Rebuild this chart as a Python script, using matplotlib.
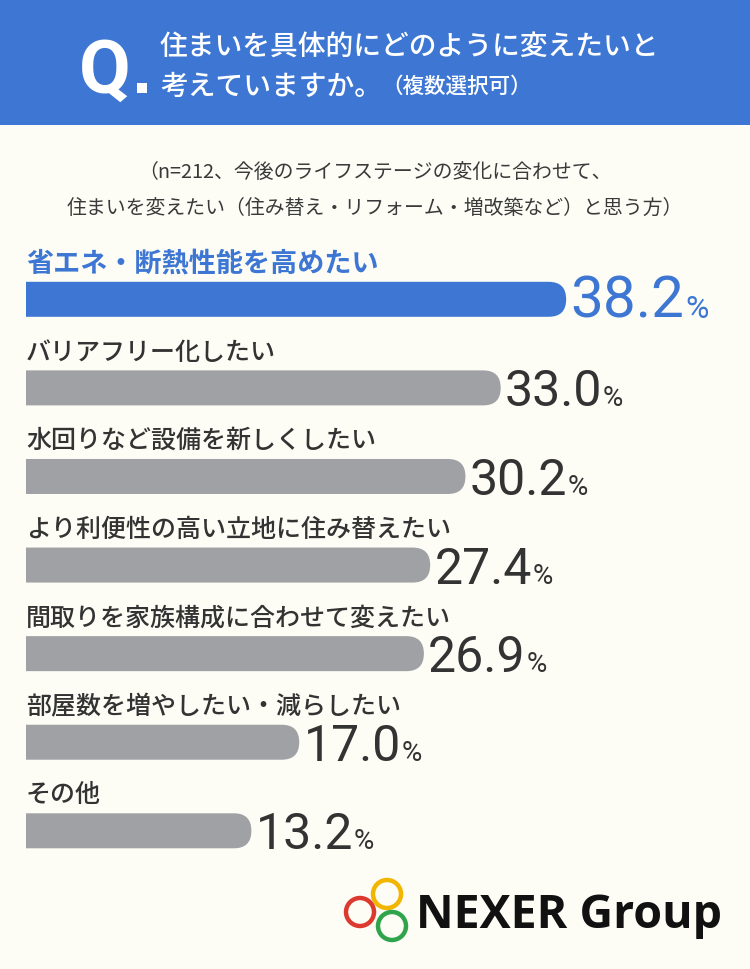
import matplotlib
matplotlib.use("Agg")
import matplotlib.pyplot as plt
from matplotlib.patches import FancyBboxPatch, Rectangle, Circle

# survey answers, top to bottom
labels = [
    "省エネ・断熱性能を高めたい",
    "バリアフリー化したい",
    "水回りなど設備を新しくしたい",
    "より利便性の高い立地に住み替えたい",
    "間取りを家族構成に合わせて変えたい",
    "部屋数を増やしたい・減らしたい",
    "その他",
]
values = [38.2, 33.0, 30.2, 27.4, 26.9, 17.0, 13.2]

title_1 = "住まいを具体的にどのように変えたいと"
title_2 = "考えていますか。"
title_note = "（複数選択可）"
sub_1 = "（n=212、今後のライフステージの変化に合わせて、"
sub_2 = "住まいを変えたい（住み替え・リフォーム・増改築など）と思う方）"

BG = "#fdfdf6"
BLUE = "#3d77d3"
GRAY_BAR = "#a0a1a5"
TXT = "#333333"

JP = ["Noto Sans CJK JP", "DejaVu Sans"]
NUM = ["Roboto", "DejaVu Sans"]

fig = plt.figure(figsize=(7.5, 9.7), dpi=100)
fig.patch.set_facecolor(BG)
renderer = fig.canvas.get_renderer()

# pixel-space axes for header, notes and logo
ax = fig.add_axes([0, 0, 1, 1])
ax.set_xlim(0, 750)
ax.set_ylim(970, 0)
ax.axis("off")

ax.add_patch(Rectangle((0, 0), 750, 126, color=BLUE, lw=0))
ax.text(79, 93, "Q", fontsize=54, weight="bold", color="white",
        family=NUM, va="baseline", ha="left")
ax.add_patch(Rectangle((137, 84), 10, 10, color="white", lw=0))
ax.text(160, 46, title_1, fontsize=20, color="white", family=JP,
        va="center", ha="left", weight="medium")
t2 = ax.text(160, 86, title_2, fontsize=20, color="white", family=JP,
             va="center", ha="left", weight="medium")
bb = t2.get_window_extent(renderer)
xend = ax.transData.inverted().transform((bb.x1, bb.y0))[0]
ax.text(xend - 1, 87, title_note, fontsize=15.5, color="white", family=JP,
        va="center", ha="left", weight="medium")

ax.text(375, 172, sub_1, fontsize=14.3, color="#3a3a3a", family=JP,
        va="center", ha="center")
ax.text(375, 208, sub_2, fontsize=14.3, color="#3a3a3a", family=JP,
        va="center", ha="center")

# logo
for (cx, cy), col in zip([(387, 895), (360, 913), (392, 927)],
                         ["#f2b500", "#dc3a2e", "#2fa44c"]):
    ax.add_patch(Circle((cx, cy), 14, fill=False, ec=col, lw=3.2))
ax.text(416, 928, "NEXER Group", fontsize=33.5, weight="bold", color="#111111",
        family=["Open Sans", "DejaVu Sans"], va="baseline", ha="left")

# bar axes: x in percent, y in category index
x0, x1 = -4.7, 52.8
y_top, y_bot = -3.39, 7.56
bax = fig.add_axes([26 / 750, 0, 724 / 750, 1])
bax.set_xlim(x0, x1)
bax.set_ylim(y_bot, y_top)
bax.axis("off")
bax.patch.set_alpha(0)

sx = 724 / (x1 - x0)   # px per percent
sy = 970 / (y_bot - y_top)  # px per category
bar_h = 35 / sy
r_x = (bar_h / 2) * sy / sx

for i, (lab, v) in enumerate(zip(labels, values)):
    first = i == 0
    col = BLUE if first else GRAY_BAR
    start = x0 - 5
    bar = FancyBboxPatch((start, i - bar_h / 2), v - start, bar_h,
                         boxstyle=f"round,pad=0,rounding_size={r_x}",
                         mutation_aspect=sx / sy, fc=col, ec="none")
    bax.add_patch(bar)

    bax.text(x0, i - 0.41, lab, fontsize=19.5 if first else 18,
             color=BLUE if first else TXT, family=JP,
             weight="bold" if first else "medium", va="center", ha="left")

    num = bax.annotate(f"{v:.1f}", xy=(v, i + bar_h / 2), xytext=(3, 0),
                       textcoords="offset points", va="baseline", ha="left",
                       fontsize=42 if first else 36,
                       color=BLUE if first else TXT, family=NUM)
    nb = num.get_window_extent(renderer)
    px, py = bax.transData.inverted().transform((nb.x1, nb.y0))
    bax.annotate("%", xy=(px, i + bar_h / 2), xytext=(0.5, 0),
                 textcoords="offset points", va="baseline", ha="left",
                 fontsize=23 if first else 20,
                 color=BLUE if first else TXT, family=NUM)

fig.savefig("out.png", dpi=100, facecolor=BG)
